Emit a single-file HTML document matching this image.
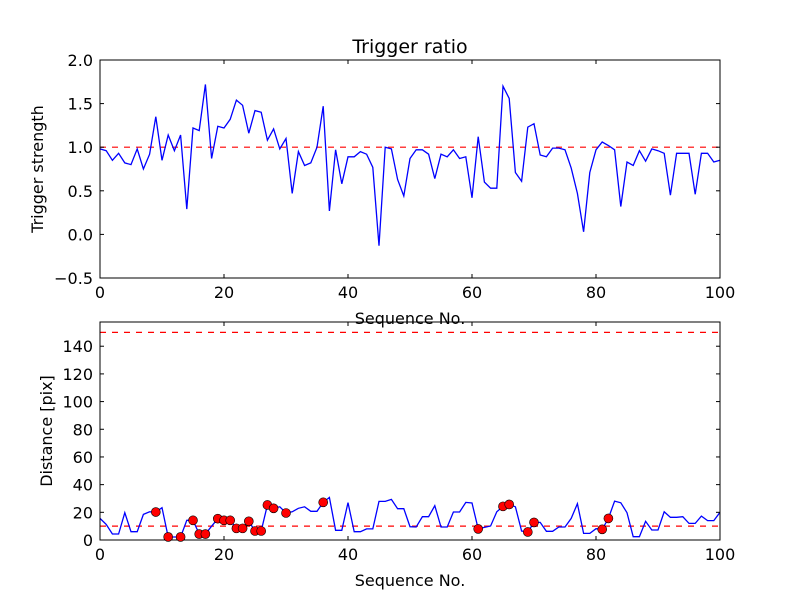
<!DOCTYPE html>
<html><head><meta charset="utf-8"><style>
body{margin:0;background:#fff}
svg text{font-family:"DejaVu Sans","Liberation Sans",sans-serif;fill:#000}
</style></head><body>
<svg id="chart" width="800" height="600" xmlns="http://www.w3.org/2000/svg">
<rect width="800" height="600" fill="#fff"/>
<g id="top"></g>
<g id="bot"></g>
</svg>
<script>
const strength = [0.98,0.96,0.85,0.93,0.82,0.80,0.98,0.75,0.92,1.35,0.85,1.14,0.96,1.14,0.29,1.22,1.19,1.72,0.87,1.24,1.22,1.32,1.54,1.48,1.16,1.42,1.40,1.08,1.21,0.98,1.10,0.47,0.95,0.79,0.82,1.0,1.47,0.27,0.97,0.58,0.89,0.89,0.95,0.92,0.77,-0.13,1.0,0.98,0.63,0.44,0.87,0.97,0.97,0.92,0.64,0.92,0.89,0.97,0.87,0.89,0.42,1.12,0.60,0.53,0.53,1.70,1.56,0.71,0.61,1.23,1.27,0.91,0.89,0.99,0.99,0.97,0.76,0.47,0.03,0.71,0.97,1.06,1.02,0.97,0.32,0.83,0.79,0.96,0.84,0.98,0.96,0.93,0.45,0.93,0.93,0.93,0.46,0.93,0.93,0.83,0.85];
const distance = [15.6,11.3,4.3,4.3,19.7,6,6,18.5,20.4,20.2,23.3,2.2,2.2,2.2,14.2,14.2,4.3,4.3,10,15.4,14.2,14.2,8.4,8.4,13.5,6.5,6.5,25.3,22.9,24,19.5,20.4,22.9,24,20.7,20.7,27.2,30.8,7,7,27,6,6,8,8,27.9,27.9,29.3,22.6,22.6,9.6,9.4,16.8,16.8,24.8,9.4,9.4,20.2,20.2,27.2,26.7,8,9.1,10.1,20.4,24.3,25.7,24,6.5,5.8,12.7,12.7,6.3,6.3,9.4,9.4,15.6,26.2,4.8,4.8,8.2,7.7,15.6,28.1,26.9,19.7,2.4,2.4,13.5,7.2,7.2,20.4,16.4,16.4,16.8,12,12,17.3,14,14,20];
const flagged = [9,11,13,15,16,17,19,20,21,22,23,24,25,26,27,28,30,36,61,65,66,69,70,81,82];
const xTicks = [0,20,40,60,80,100];
const topTicks = [-0.5,0.0,0.5,1.0,1.5,2.0];
const botTicks = [0,20,40,60,80,100,120,140];
const topThreshold = [1.0];
const botThresholds = [10,150];

const NS="http://www.w3.org/2000/svg";
function mk(p,t,a){const e=document.createElementNS(NS,t);for(const k in a)e.setAttribute(k,a[k]);p.appendChild(e);return e;}
const X0=100,X1=720;
const xs=v=>X0+(v-0)/(100-0)*(X1-X0);

function panel(g,top,bottom,ymin,ymax,ticks,fmt,data,thr,ylabel,name){
  const ys=v=>bottom-(v-ymin)/(ymax-ymin)*(bottom-top);
  thr.forEach(t=>{const l=mk(g,'line',{x1:X0,x2:X1,y1:ys(t),y2:ys(t),stroke:'#f00','stroke-width':1.2,'stroke-dasharray':'6,6'});
    
    });
  const pts=data.map((v,i)=>xs(i).toFixed(1)+','+ys(v).toFixed(1)).join(' ');
  const pl=mk(g,'polyline',{points:pts,fill:'none',stroke:'#00f','stroke-width':1.3});
  
  
  const fr=mk(g,'rect',{x:X0,y:top,width:X1-X0,height:bottom-top,fill:'none',stroke:'#000','stroke-width':1});
  
  
  xTicks.forEach(t=>{const x=xs(t);
    mk(g,'line',{x1:x,x2:x,y1:bottom,y2:bottom-4,stroke:'#000'});
    mk(g,'line',{x1:x,x2:x,y1:top,y2:top+4,stroke:'#000'});
    const tx=mk(g,'text',{x:x,y:bottom+20,'text-anchor':'middle','font-size':16});tx.textContent=t;
    
    });
  ticks.forEach(t=>{const y=ys(t);
    mk(g,'line',{x1:X0,x2:X0+4,y1:y,y2:y,stroke:'#000'});
    mk(g,'line',{x1:X1,x2:X1-4,y1:y,y2:y,stroke:'#000'});
    const tx=mk(g,'text',{x:X0-7,y:y+6,'text-anchor':'end','font-size':16});tx.textContent=fmt(t);
    
    });
  const xl=mk(g,'text',{x:410,y:bottom+46,'text-anchor':'middle','font-size':16});xl.textContent='Sequence No.';
  
  
  const cy=(top+bottom)/2;
  const yl=mk(g,'text',{x:0,y:0,'text-anchor':'middle','font-size':16,transform:`translate(${ylabel[1]},${cy}) rotate(-90)`});yl.textContent=ylabel[0];
  
  
  return ys;
}
const gt=document.getElementById('top'),gb=document.getElementById('bot');
panel(gt,60,278,-0.5,2.0,topTicks,v=>v.toFixed(1).replace('-','\u2212'),strength,topThreshold,['Trigger strength',43],'top');
const ysb=panel(gb,322,540,0,157.5,botTicks,v=>String(v),distance,botThresholds,['Distance [pix]',52],'bottom');
flagged.forEach(i=>{const c=mk(gb,'circle',{cx:xs(i),cy:ysb(distance[i]),r:4.5,fill:'#f00',stroke:'#000','stroke-width':0.6});
  
  });
const t=mk(document.getElementById('chart'),'text',{x:410,y:53,'text-anchor':'middle','font-size':19});t.textContent='Trigger ratio';


</script>
</body></html>
